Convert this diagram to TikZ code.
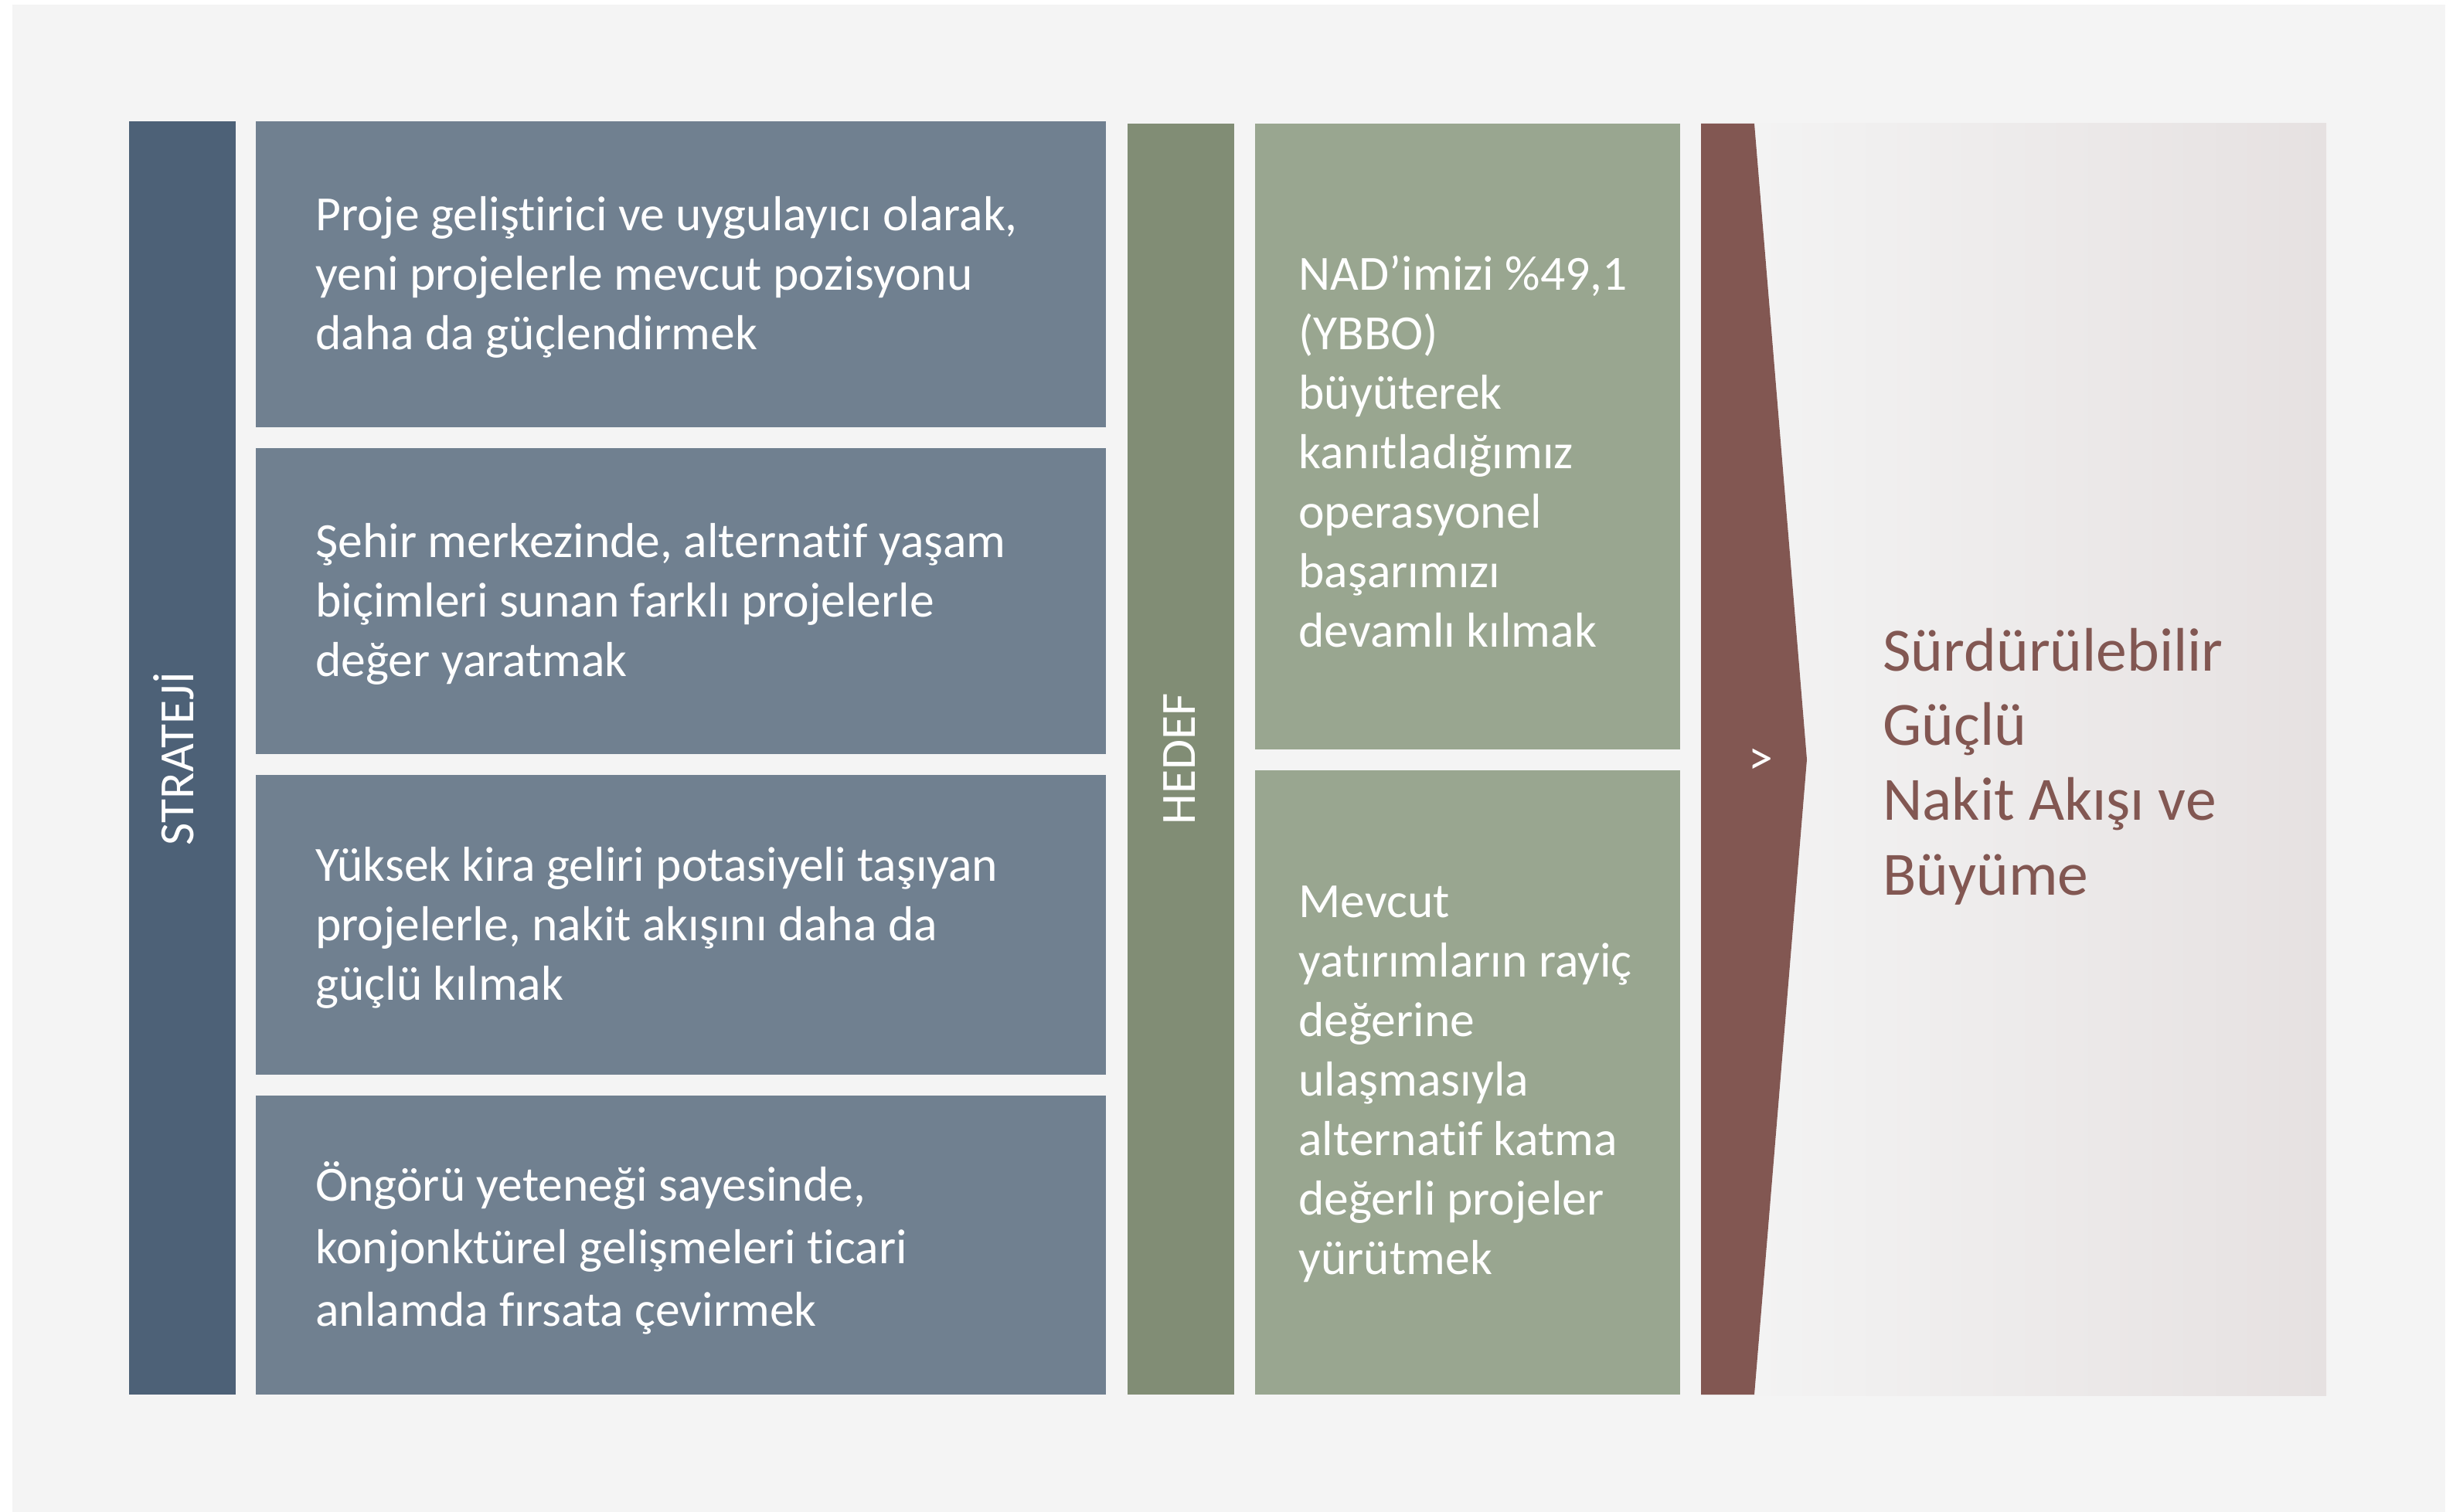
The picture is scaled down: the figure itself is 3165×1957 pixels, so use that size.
\documentclass[tikz,border=0pt]{standalone}
\usepackage{fontspec}
\setmainfont{Carlito}[Ligatures={NoCommon,NoContextual,NoRare}]
\definecolor{bgc}{HTML}{F4F4F4}
\definecolor{stratbar}{HTML}{4D6177}
\definecolor{stratbox}{HTML}{708090}
\definecolor{hedefbar}{HTML}{818D75}
\definecolor{hedefbox}{HTML}{99A690}
\definecolor{brownc}{HTML}{825752}
\definecolor{gradL}{HTML}{F3F3F3}
\definecolor{gradR}{HTML}{E6E1E1}
\tikzset{
  bodytext/.style={font=\fontsize{31.8}{38.5}\selectfont, text=white, align=left, inner sep=0pt, anchor=west},
  sidelabel/.style={font=\fontsize{31.8}{38.5}\selectfont, text=white, inner sep=0pt, rotate=90, anchor=base},
  goaltext/.style={font=\fontsize{39.8}{48.3}\selectfont, text=brownc, align=left, inner sep=0pt, anchor=west}
}
\begin{document}
\begin{tikzpicture}[x=0.5pt,y=-0.5pt]
\useasboundingbox (0,0) rectangle (3165,1957);
\fill[white] (0,0) rectangle (3165,1957);
\fill[bgc] (16,6) rectangle (3164,1957);
% strategy column
\fill[stratbar] (167,157) rectangle (305,1805);
\fill[stratbox] (331,157) rectangle (1431,553);
\fill[stratbox] (331,580) rectangle (1431,976);
\fill[stratbox] (331,1003) rectangle (1431,1391);
\fill[stratbox] (331,1418) rectangle (1431,1805);
% goal column
\fill[hedefbar] (1459,160) rectangle (1597,1805);
\fill[hedefbox] (1624,160) rectangle (2174,970);
\fill[hedefbox] (1624,997) rectangle (2174,1805);
% gradient panel and arrow
\shade[left color=gradL, right color=gradR] (2270,160) rectangle (3010,1806);
\fill[brownc] (2201,160) -- (2270,160) -- (2338,983) -- (2270,1805) -- (2201,1805) -- cycle;
% labels
\node[sidelabel] (strateji) at (250,982) {STRATEJİ};
\node[sidelabel] (hedef) at (1546,982) {HEDEF};
\node[font=\fontsize{31.8}{38.5}\selectfont, text=white, inner sep=0pt] (gt) at (2278,986) {>};
% strategy texts
\node[bodytext] (s1) at (408,359) {Proje geliştirici ve uygulayıcı olarak,\\yeni projelerle mevcut pozisyonu\\daha da güçlendirmek};
\node[bodytext] (s2) at (408,782) {Şehir merkezinde, alternatif yaşam\\biçimleri sunan farklı projelerle\\değer yaratmak};
\node[bodytext] (s3) at (408,1201) {Yüksek kira geliri potasiyeli taşıyan\\projelerle, nakit akışını daha da\\güçlü kılmak};
\node[bodytext, font=\fontsize{31.8}{40.5}\selectfont] (s4) at (408,1615) {Öngörü yeteneği sayesinde,\\konjonktürel gelişmeleri ticari\\anlamda fırsata çevirmek};
% goal texts
\node[bodytext] (g1) at (1680,584) {NAD’imizi \%49,1\\(YBBO)\\büyüterek\\kanıtladığımız\\operasyonel\\başarımızı\\devamlı kılmak};
\node[bodytext] (g2) at (1680,1403) {Mevcut\\yatırımların rayiç\\değerine\\ulaşmasıyla\\alternatif katma\\değerli projeler\\yürütmek};
% result text
\node[goaltext] (res) at (2436,992) {Sürdürülebilir\\Güçlü\\Nakit Akışı ve\\Büyüme};
\end{tikzpicture}
\end{document}
